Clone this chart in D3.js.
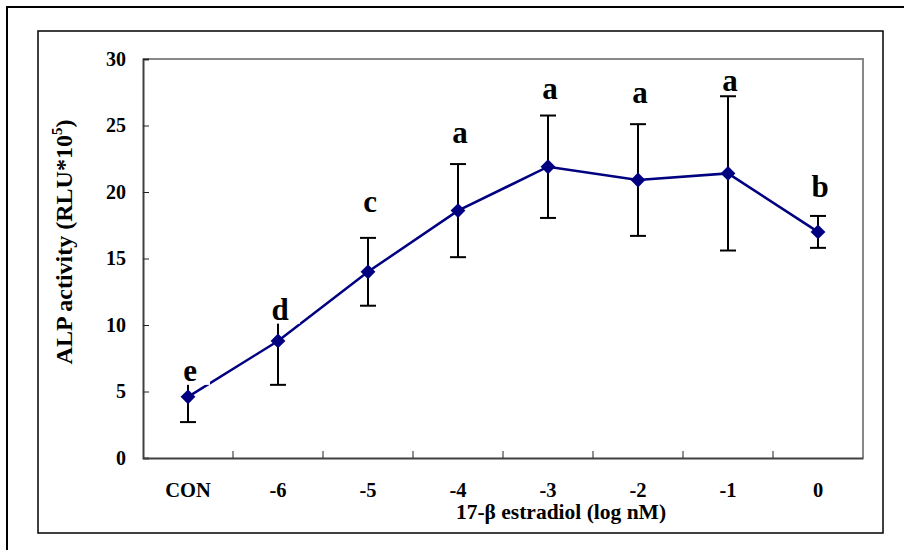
<!DOCTYPE html>
<html>
<head>
<meta charset="utf-8">
<script src="https://cdn.jsdelivr.net/npm/d3@7"></script>
<style>
  body { margin: 0; background: #fff; }
  text { font-family: "Liberation Serif", "Times New Roman", serif; font-weight: bold; }
</style>
</head>
<body>
<div id="chart"></div>
<script>
const categories = ["CON", "-6", "-5", "-4", "-3", "-2", "-1", "0"]
const means = [4.6, 8.8, 14.0, 18.6, 21.9, 20.9, 21.4, 17.0]
const errs = [1.9, 3.3, 2.55, 3.5, 3.85, 4.2, 5.8, 1.2]
const letters = ["e", "d", "c", "a", "a", "a", "a", "b"]
const letterY = [5.8, 10.4, 18.5, 23.7, 27.0, 26.7, 27.6, 19.6]
const yTicks = [0, 5, 10, 15, 20, 25, 30]

const width = 904, height = 550
const plot = { left: 143, right: 863, top: 59, bottom: 458 }

const svg = d3.select("#chart").append("svg")
  .attr("width", width)
  .attr("height", height)

// outer frame (only top and left edges show)
svg.append("path")
  .attr("d", `M7,${height + 5}V7H${width + 5}`)
  .attr("fill", "none").attr("stroke", "#000").attr("stroke-width", 2)

// chart area frame
svg.append("rect")
  .attr("x", 38).attr("y", 31).attr("width", 845).attr("height", 502)
  .attr("fill", "none").attr("stroke", "#000").attr("stroke-width", 1.5)

const x = d3.scaleBand().domain(categories).range([plot.left, plot.right]).padding(0)
const y = d3.scaleLinear().domain([0, 30]).range([plot.bottom, plot.top])

// plot area: grey top/right
svg.append("path")
  .attr("d", `M${plot.left},${plot.top}H${plot.right}V${plot.bottom}`)
  .attr("fill", "none").attr("stroke", "#888").attr("stroke-width", 2)

// y axis
const yAxis = svg.append("g")
  .attr("transform", `translate(${plot.left},0)`)
  .call(d3.axisLeft(y).tickValues(yTicks).tickSize(-6).tickPadding(17))
yAxis.select(".domain").attr("stroke", "#404040").attr("stroke-width", 2)
yAxis.selectAll(".tick line").attr("stroke", "#222").attr("stroke-width", 1)
yAxis.selectAll(".tick text").attr("font-size", 20).attr("fill", "#000")
  .style("font-family", "'Liberation Serif', serif").style("font-weight", "bold")

// x axis: ticks between categories, pointing inward
const xAxis = svg.append("g")
  .attr("transform", `translate(0,${plot.bottom})`)
  .call(d3.axisBottom(x).tickSize(0).tickPadding(24))
xAxis.select(".domain").attr("stroke", "#404040").attr("stroke-width", 2)
xAxis.selectAll(".tick text").attr("font-size", 20.5).attr("fill", "#000")
  .style("font-family", "'Liberation Serif', serif").style("font-weight", "bold")
xAxis.selectAll(".sep")
  .data(categories.slice(1))
  .join("line")
  .attr("class", "sep")
  .attr("x1", d => x(d)).attr("x2", d => x(d))
  .attr("y1", 0).attr("y2", -7)
  .attr("stroke", "#222").attr("stroke-width", 1)

const pts = categories.map((c, i) => ({ c, m: means[i], e: errs[i], l: letters[i], ly: letterY[i] }))
const cx = d => x(d.c) + x.bandwidth() / 2

// error bars
const eb = svg.append("g").attr("stroke", "#000").attr("stroke-width", 2)
eb.selectAll("line.v").data(pts).join("line").attr("class", "v")
  .attr("x1", cx).attr("x2", cx)
  .attr("y1", d => y(d.m - d.e)).attr("y2", d => y(d.m + d.e))
eb.selectAll("line.top").data(pts).join("line").attr("class", "top")
  .attr("x1", d => cx(d) - 8).attr("x2", d => cx(d) + 8)
  .attr("y1", d => y(d.m + d.e)).attr("y2", d => y(d.m + d.e))
eb.selectAll("line.bot").data(pts).join("line").attr("class", "bot")
  .attr("x1", d => cx(d) - 8).attr("x2", d => cx(d) + 8)
  .attr("y1", d => y(d.m - d.e)).attr("y2", d => y(d.m - d.e))

// series line
svg.append("path")
  .datum(pts)
  .attr("fill", "none")
  .attr("stroke", "#000080")
  .attr("stroke-width", 2.5)
  .attr("d", d3.line().x(cx).y(d => y(d.m)))

// diamond markers
svg.append("g").selectAll("path")
  .data(pts)
  .join("path")
  .attr("transform", d => `translate(${cx(d)},${y(d.m)})`)
  .attr("d", d3.symbol().type(d3.symbolDiamond2).size(140))
  .attr("fill", "#000080")

// significance letters (text boxes with white fill)
const lab = svg.append("g").selectAll("g").data(pts).join("g")
  .attr("transform", d => `translate(${cx(d) + 2},${y(d.ly)})`)
lab.append("rect")
  .attr("x", -18).attr("y", -24).attr("width", 38).attr("height", 28)
  .attr("fill", "#fff")
lab.append("text")
  .attr("text-anchor", "middle")
  .attr("font-size", 31)
  .text(d => d.l)

// axis titles
svg.append("text")
  .attr("transform", "translate(72,242) rotate(-90)")
  .attr("text-anchor", "middle")
  .attr("font-size", 24)
  .call(t => {
    t.append("tspan").text("ALP activity (RLU*10")
    t.append("tspan").attr("font-size", 15).attr("dy", -10).text("5")
    t.append("tspan").attr("dy", 10).text(")")
  })

svg.append("text")
  .attr("x", 561).attr("y", 519)
  .attr("text-anchor", "middle")
  .attr("font-size", 21.5)
  .text("17-β estradiol (log nM)")
</script>
</body>
</html>
